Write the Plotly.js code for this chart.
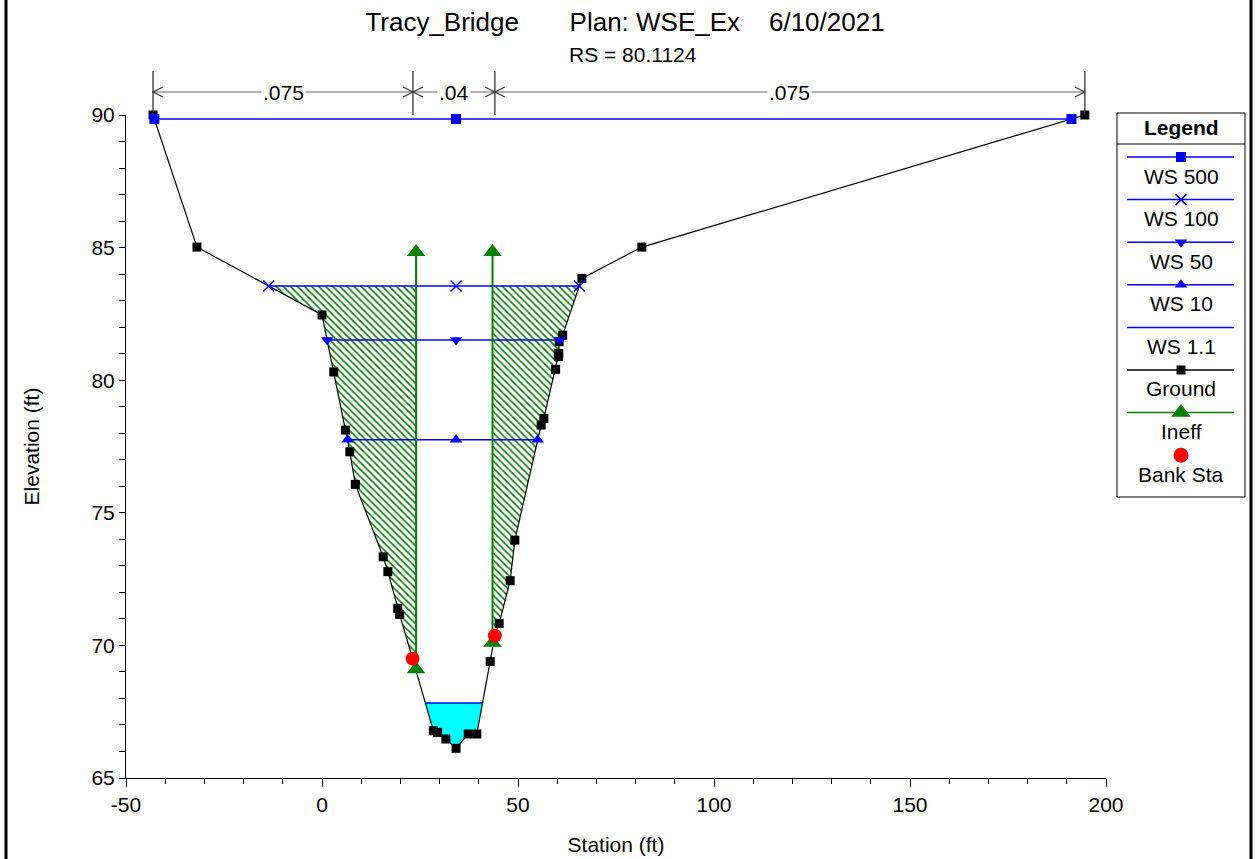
<!DOCTYPE html>
<html><head><meta charset="utf-8">
<script src="https://cdn.plot.ly/plotly-3.0.1.min.js"></script>
<style>html,body{margin:0;padding:0;background:#fff}#chart{width:1255px;height:859px}</style>
</head><body><div id="chart"></div>
<script>
// ---------------- data ----------------
const groundSta  = [-43.1, -31.9, 0.0, 3.0, 6.0, 7.1, 8.5, 15.6, 16.8, 19.3, 19.8, 23.1,
                    28.4, 29.5, 31.6, 34.2, 37.3, 39.5, 42.9, 44.1, 45.2, 48.0, 49.2,
                    55.9, 56.6, 59.6, 60.3, 60.4, 60.5, 61.4, 66.3, 81.6, 194.6];
const groundElev = [90.0, 85.02, 82.46, 80.31, 78.12, 77.3, 76.07, 73.34, 72.78, 71.4, 71.17, 69.5,
                    66.78, 66.72, 66.47, 66.12, 66.66, 66.66, 69.39, 70.37, 70.83, 72.44, 73.97,
                    78.31, 78.56, 80.41, 80.89, 81.01, 81.45, 81.7, 83.84, 85.02, 90.0];
const profileNames = ['WS 500', 'WS 100', 'WS 50', 'WS 10', 'WS 1.1'];
const profileElev  = [89.85, 83.55, 81.52, 77.75, 67.83];
const ineffSta  = [24.0, 43.5];
const ineffLow  = [69.1, 70.1];
const ineffElev = 84.83;
const bankSta  = [23.1, 44.1];
const bankElev = [69.5, 70.37];
const nSta = [-43.1, 23.2, 44.1, 194.6];
const nVal = ['.075', '.04', '.075'];
const xTicks = [-50, 0, 50, 100, 150, 200];
const xTickLabels = ['-50', '0', '50', '100', '150', '200'];
const yTicks = [65, 70, 75, 80, 85, 90];
const yTickLabels = ['65', '70', '75', '80', '85', '90'];
const xRange = [-50, 200], yRange = [65, 90];

// ---------------- styles ----------------
const W = 1255, H = 859;
const FONT = 'Liberation Sans, Arial, Helvetica, sans-serif';
const BLUE = '#0000ff', GREEN = '#008000';
const profStyle = [
  {symbol: 'square', size: 10, line: {width: 0}},
  {symbol: 'x-thin-open', size: 11, line: {width: 1.5, color: BLUE}},
  {symbol: 'triangle-down', size: 11, line: {width: 0}},
  {symbol: 'triangle-up', size: 11, line: {width: 0}},
  null
];

// ---------------- helpers computed from data ----------------
function groundAt(x) {
  for (let i = 0; i < groundSta.length - 1; i++) {
    const a = groundSta[i], b = groundSta[i + 1];
    if (x >= a && x <= b) {
      const t = (b === a) ? 0 : (x - a) / (b - a);
      return groundElev[i] + t * (groundElev[i + 1] - groundElev[i]);
    }
  }
  return null;
}
function crossings(e) {
  const xs = [];
  for (let i = 0; i < groundSta.length - 1; i++) {
    const e1 = groundElev[i], e2 = groundElev[i + 1];
    if ((e1 - e) * (e2 - e) <= 0 && e1 !== e2) {
      xs.push(groundSta[i] + (e - e1) / (e2 - e1) * (groundSta[i + 1] - groundSta[i]));
    }
  }
  return [Math.min(...xs), Math.max(...xs)];
}
const thalIdx = groundElev.indexOf(Math.min(...groundElev));
const thalSta = groundSta[thalIdx];

function groundBetweenDesc(x0, x1) {
  const pts = [];
  for (let i = groundSta.length - 1; i >= 0; i--) {
    if (groundSta[i] > x0 && groundSta[i] < x1) pts.push([groundSta[i], groundElev[i]]);
  }
  return pts;
}

const traces = [];

// WS 1.1 cyan fill
(function () {
  const e = profileElev[4];
  const [xl, xr] = crossings(e);
  const poly = [[xl, e], [xr, e]].concat(groundBetweenDesc(xl, xr)).concat([[xl, e]]);
  traces.push({x: poly.map(p => p[0]), y: poly.map(p => p[1]), mode: 'lines', fill: 'toself',
    fillcolor: '#00ffff', line: {width: 0, color: 'rgba(0,0,0,0)'}, hoverinfo: 'skip'});
})();

// Ineffective-flow hatched areas (below the highest profile that stays under the ineff elevation)
(function () {
  const e = Math.max(...profileElev.filter(v => v < ineffElev));
  const [xl, xr] = crossings(e);
  const left = [[xl, e], [ineffSta[0], e], [ineffSta[0], groundAt(ineffSta[0])]]
    .concat(groundBetweenDesc(xl, ineffSta[0])).concat([[xl, e]]);
  const right = [[ineffSta[1], groundAt(ineffSta[1])], [ineffSta[1], e], [xr, e]]
    .concat(groundBetweenDesc(ineffSta[1], xr)).concat([[ineffSta[1], groundAt(ineffSta[1])]]);
  [left, right].forEach(poly => traces.push({
    x: poly.map(p => p[0]), y: poly.map(p => p[1]), mode: 'lines', fill: 'toself',
    fillcolor: 'rgba(255,255,255,0)',
    fillpattern: {shape: '\\', fgcolor: GREEN, bgcolor: 'rgba(255,255,255,0)', size: 5, solidity: 0.32},
    line: {width: 0, color: 'rgba(0,0,0,0)'}, hoverinfo: 'skip'}));
})();

// Ground
traces.push({x: groundSta, y: groundElev, mode: 'lines+markers', name: 'Ground',
  line: {color: '#000', width: 1.2}, marker: {symbol: 'square', size: 9, color: '#000'}, cliponaxis: false});

// Water surface profiles
profileElev.forEach((e, i) => {
  const [xl, xr] = crossings(e);
  const st = profStyle[i];
  const tr = {x: [xl, thalSta, xr], y: [e, e, e], name: profileNames[i],
    mode: st ? 'lines+markers' : 'lines', cliponaxis: false,
    line: {color: BLUE, width: 1.5}};
  if (st) tr.marker = {symbol: st.symbol, size: st.size, color: BLUE, line: st.line};
  traces.push(tr);
});

// Ineffective flow markers
ineffSta.forEach((s, i) => traces.push({x: [s, s], y: [ineffLow[i], ineffElev], mode: 'lines+markers',
  name: 'Ineff', cliponaxis: false, line: {color: GREEN, width: 2},
  marker: {symbol: 'triangle-up', size: 16, color: GREEN}}));

// Bank stations
traces.push({x: bankSta, y: bankElev, mode: 'markers', name: 'Bank Sta', cliponaxis: false,
  marker: {symbol: 'circle', size: 14, color: '#ff0000'}});

// ---------------- custom legend (pixel-unit axes over the legend box) ----------------
const legendItems = [
  {name: 'WS 500', color: BLUE, m: profStyle[0]},
  {name: 'WS 100', color: BLUE, m: profStyle[1]},
  {name: 'WS 50', color: BLUE, m: profStyle[2]},
  {name: 'WS 10', color: BLUE, m: profStyle[3]},
  {name: 'WS 1.1', color: BLUE, m: null},
  {name: 'Ground', color: '#000', m: {symbol: 'square', size: 9, line: {width: 0}}},
  {name: 'Ineff', color: GREEN, m: {symbol: 'triangle-up', size: 17, line: {width: 0}}},
  {name: 'Bank Sta', color: null, m: {symbol: 'circle', size: 15, line: {width: 0}}, mcolor: '#ff0000'}
];
const LG = {x0: 1117, x1: 1245, y0: 113, y1: 497, head: 144, first: 157, step: 42.6, lx0: 1127, lx1: 1234};
const lgCx = (LG.x0 + LG.x1) / 2;
const annotations = [];
legendItems.forEach((it, i) => {
  const yy = LG.first + i * LG.step;
  if (it.color) traces.push({x: [LG.lx0, LG.lx1], y: [yy, yy], xaxis: 'x2', yaxis: 'y2', mode: 'lines',
    line: {color: it.color, width: 1.5}, hoverinfo: 'skip', cliponaxis: false});
  if (it.m) traces.push({x: [lgCx], y: [yy], xaxis: 'x2', yaxis: 'y2', mode: 'markers', cliponaxis: false,
    marker: {symbol: it.m.symbol, size: it.m.size, color: it.mcolor || it.color, line: it.m.line}, hoverinfo: 'skip'});
  annotations.push({xref: 'paper', yref: 'paper', x: lgCx / W, y: 1 - (yy + 19) / H, text: it.name,
    showarrow: false, xanchor: 'center', yanchor: 'middle', font: {size: 21, family: FONT, color: '#000'}});
});
annotations.push({xref: 'paper', yref: 'paper', x: lgCx / W, y: 1 - 127 / H, text: '<b>Legend</b>',
  showarrow: false, xanchor: 'center', yanchor: 'middle', font: {size: 21, family: FONT, color: '#000'}});
annotations.push({xref: 'paper', yref: 'paper', x: 633 / W, y: 1 - 55 / H, text: 'RS = 80.1124',
  showarrow: false, xanchor: 'center', yanchor: 'middle', font: {size: 21, family: FONT, color: '#000'}});

const shapes = [];
// legend box
shapes.push({type: 'rect', xref: 'paper', yref: 'paper', x0: LG.x0 / W, x1: LG.x1 / W,
  y0: 1 - LG.y1 / H, y1: 1 - LG.y0 / H, line: {color: '#000', width: 1}, fillcolor: 'rgba(0,0,0,0)'});
shapes.push({type: 'line', xref: 'paper', yref: 'paper', x0: LG.x0 / W, x1: LG.x1 / W,
  y0: 1 - LG.head / H, y1: 1 - LG.head / H, line: {color: '#000', width: 1}});
// outer frame
[6, 1251].forEach(px => shapes.push({type: 'line', xref: 'paper', yref: 'paper', x0: px / W, x1: px / W,
  y0: 0, y1: 1, line: {color: '#000', width: 3}}));

// Manning's n dimension lines
const dimY = 1 - 92 / H, dimTop = 1 - 71 / H, dimBot = 1 - 115 / H, chevH = 5 / H;
const chevDx = 10 * (xRange[1] - xRange[0]) / 980;
nSta.forEach(s => shapes.push({type: 'line', xref: 'x', yref: 'paper', x0: s, x1: s, y0: dimBot, y1: dimTop,
  line: {color: '#333', width: 1.3}}));
nVal.forEach((v, j) => {
  const a = nSta[j], b = nSta[j + 1];
  shapes.push({type: 'line', xref: 'x', yref: 'paper', x0: a, x1: b, y0: dimY, y1: dimY, line: {color: '#666', width: 1.2}});
  shapes.push({type: 'path', xref: 'x', yref: 'paper', line: {color: '#333', width: 1.2},
    path: `M ${a + chevDx},${dimY + chevH} L ${a},${dimY} L ${a + chevDx},${dimY - chevH}`});
  shapes.push({type: 'path', xref: 'x', yref: 'paper', line: {color: '#333', width: 1.2},
    path: `M ${b - chevDx},${dimY + chevH} L ${b},${dimY} L ${b - chevDx},${dimY - chevH}`});
  annotations.push({xref: 'x', yref: 'paper', x: (a + b) / 2, y: dimY, text: v, showarrow: false,
    xanchor: 'center', yanchor: 'middle', bgcolor: '#ffffff', borderpad: 1,
    font: {size: 21, family: FONT, color: '#000'}});
});

const nb = n => '\u00a0'.repeat(n);
const layout = {
  width: W, height: H, margin: {l: 0, r: 0, t: 0, b: 0},
  paper_bgcolor: '#ffffff', plot_bgcolor: 'rgba(0,0,0,0)', showlegend: false,
  font: {family: FONT, size: 21, color: '#000'},
  title: {text: 'Tracy_Bridge' + nb(7) + 'Plan: WSE_Ex' + nb(4) + '6/10/2021',
    xref: 'container', yref: 'container', x: 625 / W, y: 1 - 22 / H, xanchor: 'center', yanchor: 'middle',
    font: {size: 26, family: FONT, color: '#000'}},
  xaxis: {domain: [126 / W, 1106 / W], range: xRange, tickmode: 'array', tickvals: xTicks, ticktext: xTickLabels,
    ticks: 'outside', ticklen: 8, tickcolor: '#000', showline: true, linecolor: '#000', linewidth: 1,
    showgrid: false, zeroline: false, anchor: 'y', fixedrange: true,
    minor: {tickmode: 'linear', tick0: xTicks[0], dtick: 10, ticks: 'outside', ticklen: 5, tickcolor: '#000', showgrid: false},
    title: {text: 'Station (ft)', standoff: 22, font: {size: 21}}},
  yaxis: {domain: [(H - 778) / H, (H - 115) / H], range: yRange, tickmode: 'array', tickvals: yTicks, ticktext: yTickLabels,
    ticks: 'outside', ticklen: 6, tickcolor: '#000', showline: true, linecolor: '#000', linewidth: 1,
    showgrid: false, zeroline: false, anchor: 'x', fixedrange: true,
    minor: {tickmode: 'linear', tick0: yTicks[0], dtick: 1, ticks: 'outside', ticklen: 6, tickcolor: '#000', showgrid: false},
    title: {text: 'Elevation (ft)', standoff: 46, font: {size: 21}}},
  xaxis2: {domain: [LG.x0 / W, LG.x1 / W], range: [LG.x0, LG.x1], visible: false, anchor: 'y2', fixedrange: true},
  yaxis2: {domain: [1 - LG.y1 / H, 1 - LG.y0 / H], range: [LG.y1, LG.y0], visible: false, anchor: 'x2', fixedrange: true},
  shapes: shapes, annotations: annotations
};
Plotly.newPlot('chart', traces, layout, {displayModeBar: false, staticPlot: true});
</script></body></html>
